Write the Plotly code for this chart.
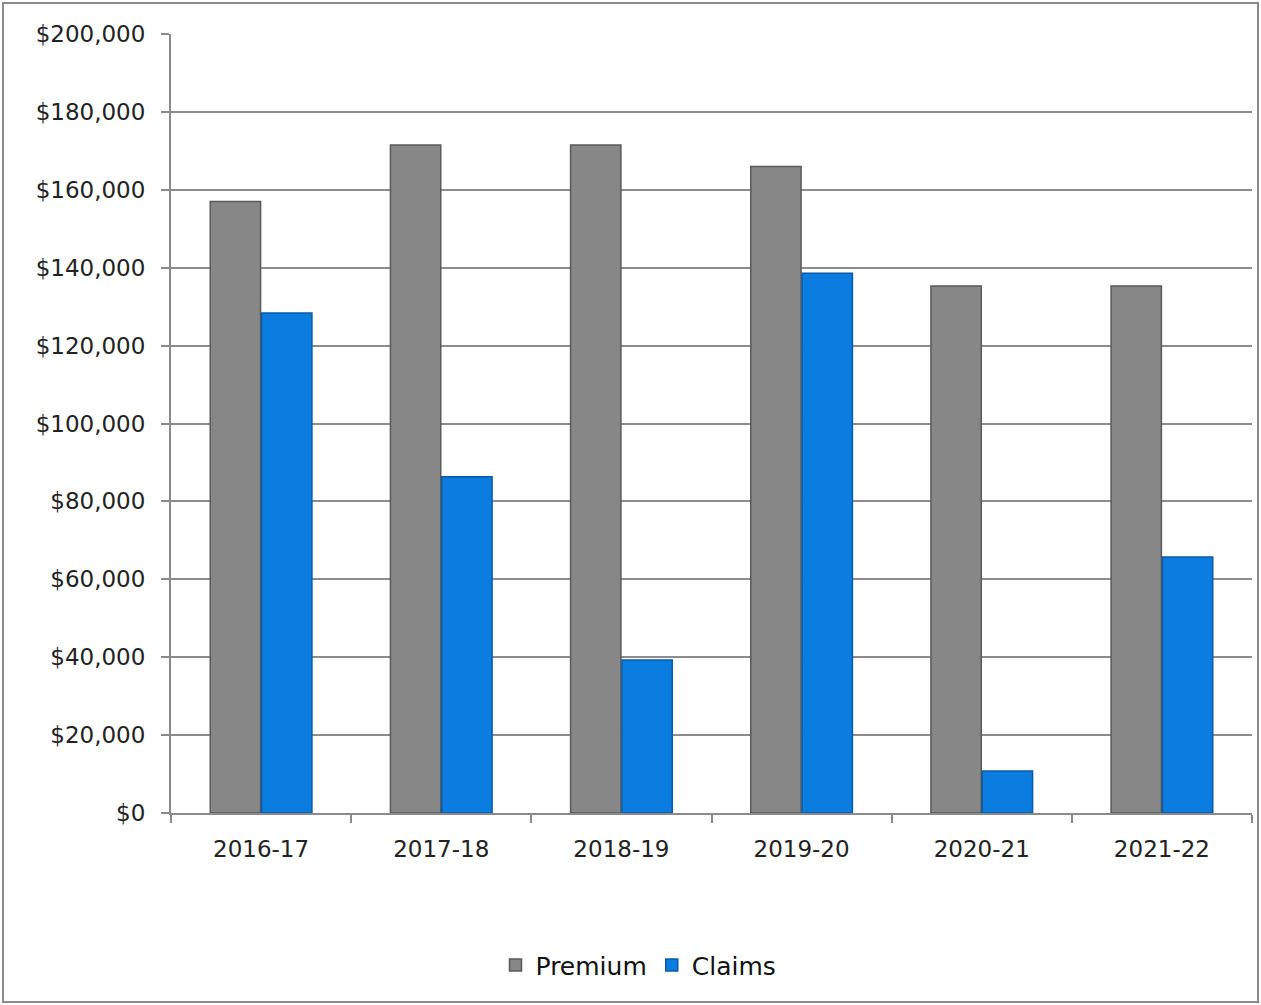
import plotly.graph_objects as go

categories = ["2016-17", "2017-18", "2018-19", "2019-20", "2020-21", "2021-22"]
premium = [157000, 171500, 171500, 166000, 135300, 135300]
claims = [128400, 86300, 39300, 138600, 10800, 65700]
y_ticks = [0, 20000, 40000, 60000, 80000, 100000, 120000, 140000, 160000, 180000, 200000]
y_tick_labels = ["$0", "$20,000", "$40,000", "$60,000", "$80,000", "$100,000",
                 "$120,000", "$140,000", "$160,000", "$180,000", "$200,000"]

W, H = 1261, 1005
L, R, T, B = 171, 9, 34, 192
pw, ph = W - L - R, H - T - B

fig = go.Figure()
fig.add_trace(go.Bar(name="Premium", x=categories, y=premium,
                     marker=dict(color="#878787", line=dict(color="#5a5a5a", width=1.5))))
fig.add_trace(go.Bar(name="Claims", x=categories, y=claims,
                     marker=dict(color="#0c7de0", line=dict(color="#0a5aa8", width=1.5))))

font = "'DejaVu Sans', sans-serif"
fig.update_layout(
    width=W, height=H,
    margin=dict(l=L, r=R, t=T, b=B, pad=0),
    paper_bgcolor="white", plot_bgcolor="white",
    barmode="group", bargap=0.43, bargroupgap=0.02,
    font=dict(family=font, size=22, color="#222222"),
    showlegend=True,
    legend=dict(orientation="h", x=(W / 2 + 8 - L) / pw, xanchor="center", y=-0.166, yanchor="top",
                font=dict(size=25, color="#111111"), itemwidth=30, traceorder="normal"),
    xaxis=dict(showline=True, linecolor="#8a8a8a", linewidth=2,
               ticks="outside", ticklen=8, tickcolor="#8a8a8a", tickwidth=2,
               tickson="boundaries", ticklabelstandoff=14,
               tickfont=dict(size=23, color="#222222"), showgrid=False),
    yaxis=dict(range=[0, 200000], tickvals=y_ticks, ticktext=y_tick_labels,
               showline=True, linecolor="#8a8a8a", linewidth=2,
               ticks="outside", ticklen=8, tickcolor="#8a8a8a", tickwidth=2,
               showgrid=True, gridcolor="#8c8c8c", gridwidth=1.5,
               ticklabelstandoff=11, zeroline=False,
               tickfont=dict(size=23, color="#222222")),
    shapes=[dict(type="rect", xref="paper", yref="paper",
                 x0=(3 - L) / pw, x1=(W - 3 - L) / pw,
                 y0=-(H - 3 - T - ph) / ph, y1=1 + (T - 3) / ph,
                 line=dict(color="#8a8a8a", width=2), layer="below")],
)

fig.write_html("out.html")
